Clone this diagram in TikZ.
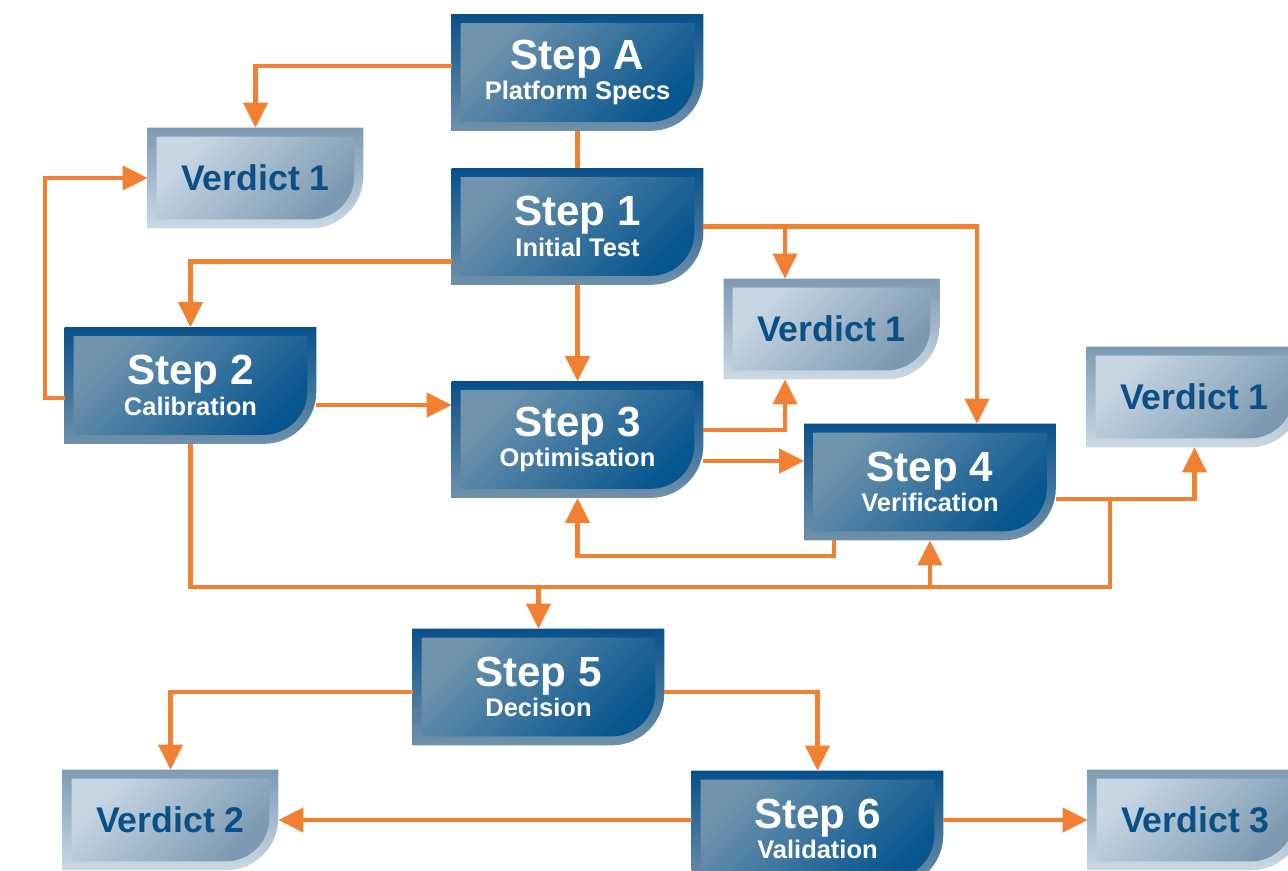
\documentclass[tikz,border=0pt]{standalone}
\usepackage{fontspec}
\setmainfont{Liberation Sans}
\usetikzlibrary{arrows.meta,backgrounds}
\definecolor{flowor}{RGB}{242,128,50}
\definecolor{stepedge}{RGB}{8,80,138}
\definecolor{stepedgelow}{RGB}{112,145,170}
\definecolor{steplight}{RGB}{112,148,174}
\definecolor{stepdark}{RGB}{8,86,143}
\definecolor{verdedge}{RGB}{125,154,178}
\definecolor{verdedgelow}{RGB}{202,217,229}
\definecolor{verdlight}{RGB}{200,215,228}
\definecolor{verddark}{RGB}{124,153,177}
\definecolor{verdtext}{RGB}{10,80,135}
% tab shape: box with one round corner, #1 node, #2 inset, #3 options
\newcommand{\tabfill}[3]{%
 \shade[#3] ([shift={(#2,-#2)}]#1.north west) -- ([shift={(-#2,-#2)}]#1.north east)
  -- ([shift={(-#2,1.05cm)}]#1.south east)
  arc[start angle=0,end angle=-90,radius=1.05cm-#2]
  -- ([shift={(#2,#2)}]#1.south west) -- cycle;}
\newcommand{\stepsub}[1]{{\fontsize{14.5}{18}\selectfont #1}}

\begin{document}
\begin{tikzpicture}[x=0.02cm,y=-0.02cm,line join=miter,
 stepbox/.style={minimum width=5.02cm,minimum height=2.32cm,inner sep=0pt,
  align=center,text=white,font=\bfseries\fontsize{24}{17.5}\selectfont},
 verdbox/.style={minimum width=4.3cm,minimum height=2cm,inner sep=0pt,
  text=verdtext,font=\bfseries\fontsize{20.3}{22}\selectfont},
 flow/.style={draw=flowor,line width=2.3pt,-{Triangle[length=0.5cm,width=0.48cm]}},
 link/.style={draw=flowor,line width=2.3pt}]
 \useasboundingbox (0,0) rectangle (1288,870);

 % steps
 \node[stepbox] (stepA) at (577.5,72.5) {Step A\\\stepsub{Platform Specs}};
 \node[stepbox] (step1) at (577.5,226.5) {Step 1\\\stepsub{Initial Test}};
 \node[stepbox] (step2) at (190.5,385.5) {Step 2\\\stepsub{Calibration}};
 \node[stepbox] (step3) at (577.5,439.5) {Step 3\\\stepsub{Optimisation}};
 \node[stepbox] (step4) at (930,482) {Step 4\\\stepsub{Verification}};
 \node[stepbox] (step5) at (538.5,687) {Step 5\\\stepsub{Decision}};
 \node[stepbox] (step6) at (817.5,829) {Step 6\\\stepsub{Validation}};
 % verdicts
 \node[verdbox] (verdA) at (255.5,178) {Verdict 1};
 \node[verdbox] (verdB) at (831.5,329) {Verdict 1};
 \node[verdbox] (verdC) at (1194.5,397) {Verdict 1};
 \node[verdbox] (verdD) at (170.5,820) {Verdict 2};
 \node[verdbox] (verdE) at (1195.5,820) {Verdict 3};

 \begin{scope}[on background layer]
  \foreach \n in {stepA,step1,step2,step3,step4,step5,step6}{
   \tabfill{\n}{0cm}{top color=stepedge,bottom color=stepedgelow}
   \tabfill{\n}{0.18cm}{top color=steplight,bottom color=stepdark,shading angle=45}
  }
  \foreach \n in {verdA,verdB,verdC,verdD,verdE}{
   \tabfill{\n}{0cm}{top color=verdedge,bottom color=verdedgelow}
   \tabfill{\n}{0.18cm}{top color=verdlight,bottom color=verddark,shading angle=45}
  }
 \end{scope}

 % connectors
 \coordinate (vb) at ([xshift=-0.93cm]verdB.north);
 \coordinate (vbs) at ([xshift=-0.93cm]verdB.south);
 \coordinate (busR) at (1110,587);
 \draw[flow] ([yshift=0.13cm]stepA.west) -| (verdA.north);
 \draw[link] (stepA.south) -- (step1.north);
 \draw[flow] ([yshift=-0.25cm]step2.west) -- ++(-0.4cm,0) |- (verdA.west);
 \draw[flow] ([yshift=-0.7cm]step1.west) -| (step2.north);
 \draw[flow] (step1.south) -- (step3.north);
 \draw[flow] (step1.east) -| ([xshift=0.94cm]step4.north);
 \draw[flow] (step1.east -| vb) -- (vb);
 \draw[flow] ([yshift=-0.39cm]step2.east) -- ([yshift=-0.39cm]step2.east -| step3.west);
 \draw[flow] ([yshift=0.19cm]step3.east) -| (vbs);
 \draw[flow] ([yshift=-0.43cm]step3.east) -- ([yshift=-0.43cm]step3.east -| step4.west);
 \draw[flow] ([xshift=-1.92cm]step4.south) -- ++(0,-0.32cm) -| (step3.south);
 \draw[link] (step2.south) |- (busR) |- ([yshift=-0.34cm]step4.east);
 \draw[flow] ([yshift=-0.34cm]step4.east) -| (verdC.south);
 \draw[flow] (busR -| step4.south) -- (step4.south);
 \draw[flow] (busR -| step5.north) -- (step5.north);
 \draw[flow] ([yshift=-0.1cm]step5.west) -| (verdD.north);
 \draw[flow] ([yshift=-0.1cm]step5.east) -| (step6.north);
 \draw[flow] ([yshift=0.18cm]step6.west) -- (verdD.east);
 \draw[flow] ([yshift=0.18cm]step6.east) -- (verdE.west);
\end{tikzpicture}
\end{document}
